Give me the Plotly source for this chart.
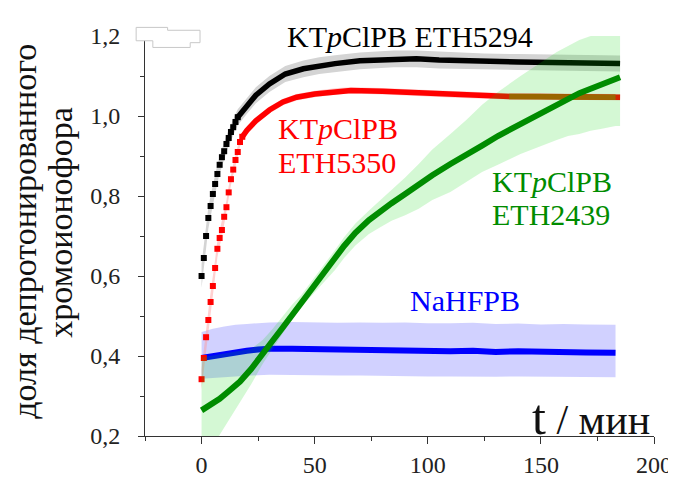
import plotly.graph_objects as go

# ---------------- data ----------------
# KTpClPB ETH5294 (black)
t_black_early = [0, 1, 2, 3, 4, 5, 6, 7, 8, 9, 10, 11, 12, 13, 14, 15, 16]
black_early = [0.600, 0.645, 0.700, 0.745, 0.775, 0.805, 0.830, 0.855, 0.878, 0.897,
               0.912, 0.930, 0.945, 0.960, 0.972, 0.985, 0.997]
black_early_sd = [0.030, 0.030, 0.028, 0.027, 0.026, 0.025, 0.024, 0.023, 0.022, 0.022,
                  0.021, 0.021, 0.020, 0.020, 0.020, 0.020, 0.020]
t_black_late = [16, 20, 24, 30, 37, 45, 52, 59, 70, 85, 95, 105, 115, 125, 140, 155, 170, 185]
black_late = [0.997, 1.025, 1.052, 1.080, 1.105, 1.118, 1.126, 1.131, 1.138, 1.143,
              1.143, 1.140, 1.138, 1.136, 1.135, 1.134, 1.133, 1.131]
black_late_sd = [0.020, 0.020, 0.020, 0.020, 0.020, 0.021, 0.021, 0.021, 0.021, 0.021,
                 0.021, 0.021, 0.020, 0.020, 0.020, 0.020, 0.020, 0.020]

# KTpClPB ETH5350 (red)
t_red_early = [0, 1, 2, 3, 4, 5, 6, 7, 8, 9, 10, 11, 12, 13, 14, 15, 16, 17, 18]
red_early = [0.342, 0.395, 0.447, 0.490, 0.535, 0.575, 0.620, 0.668, 0.695, 0.715,
             0.748, 0.772, 0.809, 0.842, 0.866, 0.890, 0.910, 0.935, 0.948]
red_early_sd = [0.025, 0.025, 0.025, 0.024, 0.024, 0.023, 0.022, 0.021, 0.020, 0.019,
                0.018, 0.017, 0.016, 0.015, 0.014, 0.013, 0.012, 0.011, 0.010]
t_red_late = [18, 20, 24, 30, 36, 42, 50, 60, 66, 80, 100, 115, 136, 150, 170, 183, 185]
red_late = [0.948, 0.964, 0.988, 1.015, 1.035, 1.047, 1.055, 1.062, 1.064, 1.062,
            1.057, 1.053, 1.049, 1.049, 1.048, 1.047, 1.047]
red_late_sd = [0.010, 0.010, 0.009, 0.009, 0.008, 0.008, 0.008, 0.008, 0.008, 0.008,
               0.008, 0.008, 0.008, 0.008, 0.008, 0.008, 0.008]

# KTpClPB ETH2439 (green)
t_green = [0, 4, 8, 12, 17, 22, 27, 31, 36, 40, 44, 50, 55, 59, 63, 68, 74, 79, 84, 90,
           96, 102, 110, 117, 124, 131, 141, 150, 157, 162, 167, 172, 177, 183, 185]
green = [0.264, 0.277, 0.293, 0.312, 0.336, 0.368, 0.403, 0.435, 0.472, 0.503, 0.534,
         0.578, 0.615, 0.645, 0.675, 0.708, 0.740, 0.762, 0.782, 0.805, 0.830, 0.852,
         0.880, 0.905, 0.926, 0.950, 0.980, 1.005, 1.026, 1.042, 1.057, 1.068, 1.078,
         1.093, 1.097]
green_hi = [0.396, 0.400, 0.404, 0.408, 0.413, 0.418, 0.440, 0.465, 0.500, 0.528, 0.552,
            0.596, 0.635, 0.665, 0.697, 0.731, 0.764, 0.790, 0.815, 0.846, 0.880, 0.916,
            0.955, 0.990, 1.028, 1.060, 1.100, 1.135, 1.160, 1.175, 1.190, 1.200, 1.215,
            1.230, 1.235]
green_lo = [0.130, 0.165, 0.200, 0.240, 0.284, 0.330, 0.380, 0.415, 0.458, 0.492, 0.522,
            0.560, 0.590, 0.615, 0.645, 0.676, 0.705, 0.722, 0.738, 0.752, 0.768, 0.790,
            0.810, 0.835, 0.860, 0.878, 0.905, 0.925, 0.940, 0.950, 0.955, 0.963, 0.968,
            0.975, 0.975]

# NaHFPB (blue)
t_blue = [0, 5, 10, 15, 20, 25, 30, 40, 50, 60, 70, 80, 90, 100, 110, 120, 130, 140,
          150, 160, 170, 183]
blue = [0.395, 0.400, 0.405, 0.410, 0.413, 0.416, 0.418, 0.418, 0.417, 0.415, 0.415,
        0.414, 0.415, 0.413, 0.412, 0.413, 0.410, 0.412, 0.410, 0.410, 0.409, 0.408]
blue_hi = [0.460, 0.468, 0.474, 0.478, 0.480, 0.482, 0.484, 0.485, 0.484, 0.483, 0.484,
           0.483, 0.484, 0.482, 0.482, 0.483, 0.480, 0.481, 0.479, 0.480, 0.479, 0.478]
blue_lo = [0.343, 0.345, 0.347, 0.349, 0.351, 0.352, 0.353, 0.352, 0.352, 0.351, 0.351,
           0.350, 0.350, 0.349, 0.349, 0.349, 0.348, 0.349, 0.348, 0.348, 0.348, 0.347]

x_ticks = [0, 50, 100, 150, 200]
y_ticks = [0.2, 0.4, 0.6, 0.8, 1.0, 1.2]

# part of the red curve lying under the green band (drawn brownish)
red_overlap_from, red_overlap_to = 136, 183

FONT = "Liberation Serif, DejaVu Serif, serif"

# ---------------- helpers ----------------
def band(ts, hi, lo, color):
    return go.Scatter(x=list(ts) + list(ts)[::-1], y=list(hi) + list(lo)[::-1],
                      fill="toself", fillcolor=color, line=dict(width=0),
                      mode="lines", hoverinfo="skip", showlegend=False)

fig = go.Figure()

fig.add_trace(band(t_blue, blue_hi, blue_lo, "rgba(0,0,255,0.18)"))

tb = t_black_early + t_black_late[1:]
vb = black_early + black_late[1:]
sb = black_early_sd + black_late_sd[1:]
fig.add_trace(band(tb, [v + s for v, s in zip(vb, sb)], [v - s for v, s in zip(vb, sb)],
                   "rgb(212,212,212)"))

tr = t_red_early + t_red_late[1:]
vr = red_early + red_late[1:]
sr = red_early_sd + red_late_sd[1:]
fig.add_trace(band(tr, [v + s for v, s in zip(vr, sr)], [v - s for v, s in zip(vr, sr)],
                   "rgba(255,150,150,0.45)"))

fig.add_trace(go.Scatter(x=t_blue, y=blue, mode="lines",
                         line=dict(color="#0000ff", width=6), showlegend=False))

fig.add_trace(go.Scatter(x=t_black_early, y=black_early, mode="markers",
                         marker=dict(symbol="square", size=6, color="#000000"),
                         showlegend=False))
fig.add_trace(go.Scatter(x=t_black_late, y=black_late, mode="lines",
                         line=dict(color="#000000", width=5.5), showlegend=False))

fig.add_trace(go.Scatter(x=t_red_early, y=red_early, mode="markers",
                         marker=dict(symbol="square", size=6, color="#ff0000"),
                         showlegend=False))
fig.add_trace(go.Scatter(x=t_red_late, y=red_late, mode="lines",
                         line=dict(color="#ff0000", width=5.5), showlegend=False))

fig.add_trace(band(t_green, green_hi, green_lo, "rgba(0,215,0,0.17)"))

ov_t = [t for t in t_red_late if red_overlap_from <= t <= red_overlap_to]
ov_v = [v for t, v in zip(t_red_late, red_late) if red_overlap_from <= t <= red_overlap_to]
fig.add_trace(go.Scatter(x=ov_t, y=ov_v, mode="lines",
                         line=dict(color="#9a6600", width=5.5), showlegend=False))

fig.add_trace(go.Scatter(x=t_green, y=green, mode="lines",
                         line=dict(color="#008c00", width=6), showlegend=False))

# ---------------- layout ----------------
L, R, T, B = 137, 655, 28, 447
W, H = 676, 482


def px(xp):
    return (xp - L) / (R - L)


def py(yp):
    return (B - yp) / (B - T)


axis_common = dict(showline=True, linecolor="#333333", linewidth=1, showgrid=False,
                   zeroline=False, ticks="outside", tickcolor="#333333", tickwidth=1,
                   tickfont=dict(family=FONT, size=24, color="#222222"), mirror=False)

fig.update_layout(
    width=W, height=H,
    margin=dict(l=L, r=W - R, t=T, b=H - B, pad=0),
    paper_bgcolor="white", plot_bgcolor="white",
    separators=", ",
    xaxis=dict(range=[-25, 200], tickmode="array", tickvals=x_ticks, ticklen=7,
               minor=dict(dtick=25, tick0=0, ticklen=4, ticks="outside",
                          tickcolor="#333333", tickwidth=1),
               **axis_common),
    yaxis=dict(range=[0.2, 1.2], tickmode="array", tickvals=y_ticks, tickformat=".1f",
               ticklen=6, ticklabelstandoff=13,
               minor=dict(dtick=0.1, tick0=0.2, ticklen=4, ticks="outside",
                          tickcolor="#333333", tickwidth=1),
               **axis_common),
    showlegend=False,
)

ann = []
ann.append(dict(text="доля депротонированного", x=px(15), y=py(233), xref="paper",
                yref="paper", textangle=-90, showarrow=False, xanchor="center",
                yanchor="middle", borderpad=0,
                font=dict(family=FONT, size=34, color="#111111")))
ann.append(dict(text="хромоионофора", x=px(51), y=py(223), xref="paper",
                yref="paper", textangle=-90, showarrow=False, xanchor="center",
                yanchor="middle", borderpad=0,
                font=dict(family=FONT, size=34, color="#111111")))
ann.append(dict(text="<span style='font-size:50px'>t</span> / мин", x=px(653), y=py(458),
                xref="paper", yref="paper", showarrow=False, xanchor="right",
                yanchor="bottom", font=dict(family=FONT, size=42, color="#111111")))
ann.append(dict(text="KT<i>p</i>ClPB ETH5294", x=px(407), y=py(29), xref="paper",
                yref="paper", showarrow=False, xanchor="center", yanchor="middle",
                font=dict(family=FONT, size=30, color="#000000")))
for txt, yy in (("KT<i>p</i>ClPB", 125), ("ETH5350", 160)):
    ann.append(dict(text=txt, x=px(270), y=py(yy), xref="paper", yref="paper",
                    showarrow=False, xanchor="left", yanchor="middle",
                    font=dict(family=FONT, size=30, color="#ff0000")))
for txt, yy in (("KT<i>p</i>ClPB", 180), ("ETH2439", 215)):
    ann.append(dict(text=txt, x=px(488), y=py(yy), xref="paper", yref="paper",
                    showarrow=False, xanchor="left", yanchor="middle",
                    font=dict(family=FONT, size=30, color="#008c00")))
ann.append(dict(text="NaHFPB", x=px(405), y=py(305), xref="paper", yref="paper",
                showarrow=False, xanchor="left", yanchor="middle",
                font=dict(family=FONT, size=30, color="#0000ff")))
fig.update_layout(annotations=ann)

box = [(128, 19), (160, 19), (160, 22), (193, 22), (193, 35), (183, 35), (183, 40),
       (145, 40), (145, 33), (128, 33)]
path = "M " + " L ".join(f"{px(a):.4f},{py(b):.4f}" for a, b in box) + " Z"
fig.add_shape(type="path", path=path, xref="paper", yref="paper",
              fillcolor="white", line=dict(color="#c8c8c8", width=1), layer="above")

fig.write_html("out.html")
